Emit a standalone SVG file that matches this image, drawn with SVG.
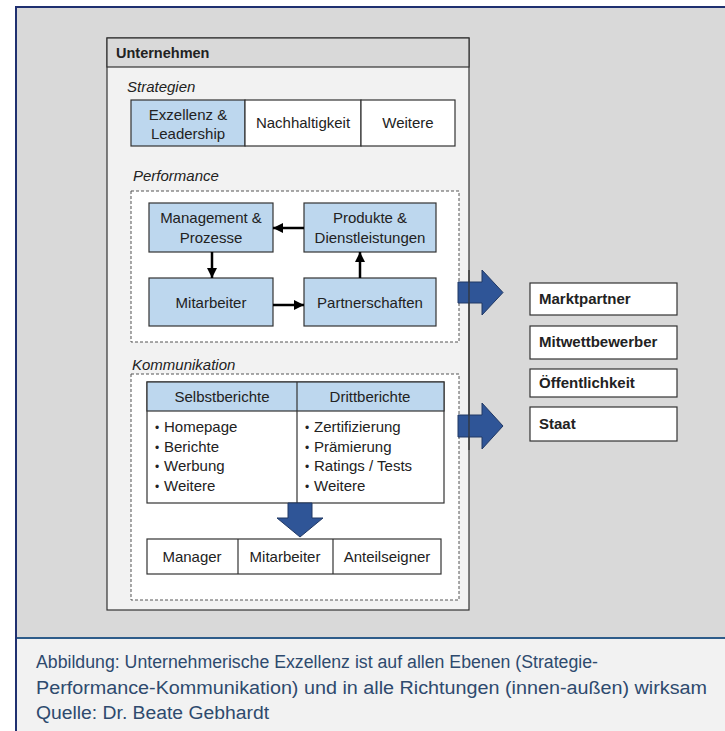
<svg xmlns="http://www.w3.org/2000/svg" width="725" height="731" viewBox="0 0 725 731">
<style>
text{font-family:"Liberation Sans",Arial,sans-serif;fill:#222;font-size:15px}
.c{text-anchor:middle}
.b{font-weight:bold}
.h{font-size:14.5px}
.i{font-style:italic}
.box{stroke:#333;stroke-width:1.2}
.blue{fill:#bdd7ee}
.white{fill:#fff}
.dash{fill:#fff;stroke:#555;stroke-width:1;stroke-dasharray:3 2}
.big{fill:#2f5597;stroke:#203864;stroke-width:1}
.ln{stroke:#000;stroke-width:2.5;fill:none;marker-end:url(#ah)}
.cap{font-size:18px;fill:#2e4a6e}
.bul{font-size:12px}
</style>
<defs>
<marker id="ah" viewBox="0 0 10 10" refX="10" refY="5" markerWidth="4" markerHeight="4" orient="auto" markerUnits="strokeWidth">
<path d="M0,0 L10,5 L0,10 z" fill="#000"/>
</marker>
</defs>
<rect x="0" y="0" width="725" height="731" fill="#fff"/>
<rect x="15" y="6" width="710" height="632" fill="#d9d9d9"/>
<rect x="15" y="638" width="710" height="93" fill="#f2f2f2"/>
<line x1="15" y1="7" x2="725" y2="7" stroke="#1f3070" stroke-width="2"/>
<line x1="15" y1="638" x2="725" y2="638" stroke="#2e5c8a" stroke-width="2"/>
<line x1="16" y1="6" x2="16" y2="731" stroke="#1f3070" stroke-width="2"/>

<g id="unternehmen">
<rect x="107" y="38" width="362" height="572" fill="#f2f2f2" class="box"/>
<rect x="107" y="38" width="362" height="29" fill="#d9d9d9" class="box"/>
<text x="116" y="58" class="b h">Unternehmen</text>
</g>

<g id="strategien">
<text x="127" y="92" class="i">Strategien</text>
<rect x="131" y="100" width="114" height="46" class="box blue"/>
<text x="188" y="120" class="c">Exzellenz &amp;</text>
<text x="188" y="139" class="c">Leadership</text>
<rect x="245" y="100" width="116" height="46" class="box white"/>
<text x="303" y="128" class="c">Nachhaltigkeit</text>
<rect x="361" y="100" width="94" height="46" class="box white"/>
<text x="408" y="128" class="c">Weitere</text>
</g>

<g id="performance">
<text x="133" y="181" class="i">Performance</text>
<rect x="131" y="191" width="328" height="151" class="dash"/>
</g>
<g id="management">
<rect x="149" y="203" width="124" height="49" class="box blue"/>
<text x="211" y="223" class="c">Management &amp;</text>
<text x="211" y="243" class="c">Prozesse</text>
</g>
<g id="produkte">
<rect x="304" y="203" width="132" height="49" class="box blue"/>
<text x="370" y="223" class="c">Produkte &amp;</text>
<text x="370" y="243" class="c">Dienstleistungen</text>
</g>
<g id="mitarbeiter">
<rect x="149" y="278" width="124" height="48" class="box blue"/>
<text x="211" y="308" class="c">Mitarbeiter</text>
</g>
<g id="partnerschaften">
<rect x="304" y="278" width="132" height="48" class="box blue"/>
<text x="370" y="308" class="c">Partnerschaften</text>
</g>

<g id="kommunikation">
<text x="132" y="370" class="i">Kommunikation</text>
<rect x="131" y="374" width="328" height="226" class="dash"/>
</g>
<g id="berichte">
<rect x="147" y="382" width="297" height="121" class="box white"/>
<rect x="147" y="382" width="297" height="29" class="box blue"/>
<line x1="297" y1="382" x2="297" y2="503" class="box"/>
<text x="222" y="402" class="c">Selbstberichte</text>
<text x="370" y="402" class="c">Drittberichte</text>
<text x="155" y="432"><tspan class="bul">•</tspan><tspan x="164">Homepage</tspan></text>
<text x="155" y="452"><tspan class="bul">•</tspan><tspan x="164">Berichte</tspan></text>
<text x="155" y="471"><tspan class="bul">•</tspan><tspan x="164">Werbung</tspan></text>
<text x="155" y="491"><tspan class="bul">•</tspan><tspan x="164">Weitere</tspan></text>
<text x="305" y="432"><tspan class="bul">•</tspan><tspan x="314">Zertifizierung</tspan></text>
<text x="305" y="452"><tspan class="bul">•</tspan><tspan x="314">Prämierung</tspan></text>
<text x="305" y="471"><tspan class="bul">•</tspan><tspan x="314">Ratings / Tests</tspan></text>
<text x="305" y="491"><tspan class="bul">•</tspan><tspan x="314">Weitere</tspan></text>
</g>
<g id="zielgruppen">
<rect x="147" y="539" width="294" height="35" class="box white"/>
<line x1="238" y1="539" x2="238" y2="574" class="box"/>
<line x1="333" y1="539" x2="333" y2="574" class="box"/>
<text x="192" y="562" class="c">Manager</text>
<text x="285" y="562" class="c">Mitarbeiter</text>
<text x="387" y="562" class="c">Anteilseigner</text>
</g>

<g id="aussen">
<rect x="530" y="283" width="147" height="32" class="box white"/>
<text x="539" y="304" class="b">Marktpartner</text>
<rect x="530" y="326" width="147" height="33" class="box white"/>
<text x="539" y="347" class="b">Mitwettbewerber</text>
<rect x="530" y="369" width="147" height="28" class="box white"/>
<text x="539" y="388" class="b">Öffentlichkeit</text>
<rect x="530" y="407" width="147" height="34" class="box white"/>
<text x="539" y="429" class="b">Staat</text>
</g>

<g id="connectors">
<line x1="304" y1="228" x2="273" y2="228" class="ln"/>
<line x1="212" y1="252" x2="212" y2="278" class="ln"/>
<line x1="273" y1="305" x2="304" y2="305" class="ln"/>
<line x1="360" y1="278" x2="360" y2="252" class="ln"/>
<polygon points="458,282 482,282 482,270 503,292.5 482,315 482,303 458,303" class="big"/>
<polygon points="458,415 482,415 482,403 503,426 482,449 482,437 458,437" class="big"/>
<line x1="469" y1="270" x2="469" y2="450" stroke="#333" stroke-width="1.2"/>
<polygon points="288,503 312,503 312,518 323,518 300,537 277,518 288,518" class="big"/>
</g>

<g id="caption">
<text x="36" y="668" class="cap" textLength="562" lengthAdjust="spacingAndGlyphs">Abbildung: Unternehmerische Exzellenz ist auf allen Ebenen (Strategie-</text>
<text x="36" y="694" class="cap" textLength="671" lengthAdjust="spacingAndGlyphs">Performance-Kommunikation) und in alle Richtungen (innen-außen) wirksam</text>
<text x="36" y="719" class="cap" textLength="233" lengthAdjust="spacingAndGlyphs">Quelle: Dr. Beate Gebhardt</text>
</g>
</svg>
